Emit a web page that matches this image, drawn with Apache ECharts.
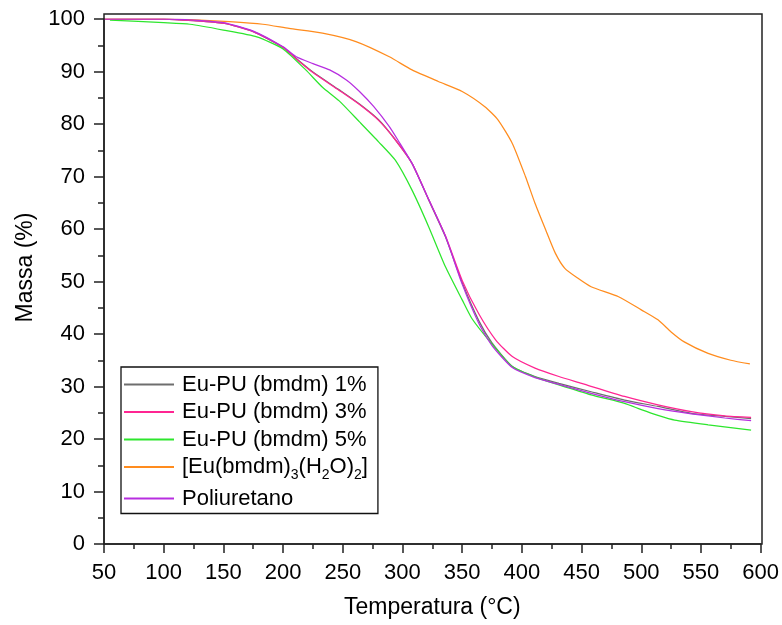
<!DOCTYPE html>
<html>
<head>
<meta charset="utf-8">
<script src="https://cdn.jsdelivr.net/npm/echarts@6/dist/echarts.min.js"></script>
<style>html,body{margin:0;padding:0;background:#fff}#c{width:782px;height:625px}</style>
</head>
<body>
<div id="c"></div>
<script>
// ---- Data ----
const seriesNames = ['Eu-PU (bmdm) 1%', 'Eu-PU (bmdm) 3%', 'Eu-PU (bmdm) 5%', '[Eu(bmdm)3(H2O)2]', 'Poliuretano'];

const temp1 = [50, 100, 125, 150, 175, 200, 211, 225, 247, 264, 280, 294, 308, 322, 336, 350, 364, 375, 392, 411, 431, 458, 486, 514, 542, 570, 592];
const mass1 = [100, 100, 99.7, 99.2, 97.6, 94.6, 92.5, 89.9, 86.5, 83.8, 80.8, 77, 72.5, 65.5, 58.5, 49.8, 42.5, 38.3, 33.8, 31.9, 30.6, 29, 27.4, 26.2, 24.9, 24.3, 23.9];

const temp3 = [50, 100, 125, 150, 175, 200, 211, 225, 247, 264, 280, 294, 308, 322, 336, 350, 364, 378, 392, 411, 431, 450, 486, 514, 542, 570, 592];
const mass3 = [100, 100, 99.7, 99.2, 97.6, 94.6, 92.4, 89.8, 86.4, 83.7, 80.7, 77, 72.5, 65.6, 58.7, 50.2, 43.8, 38.9, 35.7, 33.5, 31.9, 30.6, 28.1, 26.5, 25.2, 24.4, 24.1];

const temp5 = [55, 100, 122, 150, 178, 200, 219, 233, 247, 264, 280, 294, 308, 322, 336, 350, 358, 372, 392, 411, 431, 458, 486, 500, 514, 528, 556, 592];
const mass5 = [99.8, 99.3, 99.0, 97.9, 96.6, 94.3, 90.3, 87.0, 84.4, 80.4, 76.6, 73.1, 67.4, 60.4, 52.8, 46.5, 43, 38.9, 33.8, 31.8, 30.3, 28.4, 26.8, 25.6, 24.5, 23.6, 22.7, 21.7];

const tempEu = [50, 100, 122, 155, 183, 205, 233, 261, 289, 308, 330, 350, 369, 380, 392, 403, 411, 420, 428, 436, 447, 458, 481, 500, 514, 525, 536, 556, 575, 591];
const massEu = [100, 100, 99.9, 99.5, 99.0, 98.2, 97.3, 95.7, 92.8, 90.3, 88.1, 86.2, 83.3, 80.8, 76.3, 70, 64.9, 59.8, 55.4, 52.5, 50.6, 49, 47.1, 44.6, 42.7, 40.4, 38.5, 36.3, 35, 34.3];

const tempPU = [50, 100, 125, 150, 175, 200, 211, 225, 239, 253, 264, 276, 289, 296, 308, 322, 336, 350, 364, 375, 392, 411, 431, 458, 486, 514, 542, 570, 592];
const massPU = [100, 100, 99.8, 99.3, 97.7, 94.7, 92.8, 91.5, 90.3, 88.4, 86.2, 83.3, 79.5, 77, 72.5, 65.6, 58.6, 49.5, 42, 37.8, 33.6, 31.7, 30.4, 28.7, 27.1, 25.8, 24.8, 24, 23.5];

const xTicks = [50, 100, 150, 200, 250, 300, 350, 400, 450, 500, 550, 600];
const yTicks = [0, 10, 20, 30, 40, 50, 60, 70, 80, 90, 100];

// ---- Styling ----
const colors = ['#6e6e6e', '#ff2592', '#2de62d', '#ff8c1e', '#b72ee0'];
const FONT = '"Liberation Sans", Arial, sans-serif';
const AX = '#222';

function zip(t, m) { return t.map((v, i) => [v, m[i]]); }
const allT = [temp1, temp3, temp5, tempEu, tempPU];
const allM = [mass1, mass3, mass5, massEu, massPU];

const series = seriesNames.map((name, i) => ({
  name: name,
  type: 'line',
  xAxisIndex: 0, yAxisIndex: 0,
  data: zip(allT[i], allM[i]),
  symbol: 'none',
  smooth: 0.2,
  lineStyle: { color: colors[i], width: 1.25 },
  itemStyle: { color: colors[i] },
  z: 2 + i
}));

const chart = echarts.init(document.getElementById('c'), null, { renderer: 'canvas' });
chart.setOption({
  animation: false,
  backgroundColor: '#fff',
  grid: [
    { left: 104, right: 20, top: 19, bottom: 81, show: false },
    { left: 104, right: 20, top: 14, bottom: 81, show: true, borderColor: AX, borderWidth: 1.5, backgroundColor: 'transparent', z: 10 }
  ],
  xAxis: [{
    type: 'value', gridIndex: 0,
    min: xTicks[0], max: xTicks[xTicks.length - 1], interval: 50,
    name: 'Temperatura (°C)', nameLocation: 'middle', nameGap: 52,
    nameTextStyle: { fontFamily: FONT, fontSize: 23, color: '#000' },
    axisLine: { show: true, lineStyle: { color: AX, width: 1.5 } },
    axisTick: { show: true, inside: false, length: 9, lineStyle: { color: AX, width: 1.5 } },
    minorTick: { show: true, splitNumber: 2, length: 5, lineStyle: { color: AX, width: 1.5 } },
    axisLabel: { fontFamily: FONT, fontSize: 22, color: '#000', margin: 18 },
    splitLine: { show: false }
  }],
  yAxis: [{
    type: 'value', gridIndex: 0,
    min: yTicks[0], max: yTicks[yTicks.length - 1], interval: 10,
    name: 'Massa (%)', nameLocation: 'middle', nameGap: 62,
    nameTextStyle: { fontFamily: FONT, fontSize: 23, color: '#000', padding: [0, 0, 0, 28] },
    axisLine: { show: true, lineStyle: { color: AX, width: 1.5 } },
    axisTick: { show: true, inside: false, length: 10, lineStyle: { color: AX, width: 1.5 } },
    minorTick: { show: true, splitNumber: 2, length: 6, lineStyle: { color: AX, width: 1.5 } },
    axisLabel: { fontFamily: FONT, fontSize: 22, color: '#000', margin: 19 },
    splitLine: { show: false }
  }],
  legend: {
    data: seriesNames,
    orient: 'vertical',
    left: 121, top: 367,
    padding: [6.5, 10, 4, 3],
    itemGap: 5.5,
    itemWidth: 50, itemHeight: 2,
    icon: 'rect',
    borderColor: '#111', borderWidth: 1.3,
    backgroundColor: '#fff',
    selectedMode: false,
    textStyle: {
      fontFamily: FONT, fontSize: 22, color: '#000', lineHeight: 22, padding: [0, 0, 0, 3],
      rich: {
        sub: { fontFamily: FONT, fontSize: 14, color: '#000', padding: [16, 0, 0, 0] }
      }
    },
    formatter: function (name) {
      if (name === '[Eu(bmdm)3(H2O)2]') return '[Eu(bmdm){sub|3}(H{sub|2}O){sub|2}]';
      return name;
    }
  },
  series: series
});
</script>
</body>
</html>
